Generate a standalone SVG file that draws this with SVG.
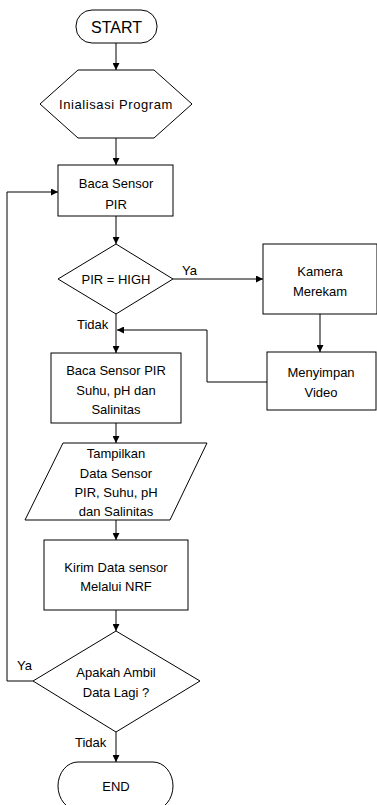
<svg xmlns="http://www.w3.org/2000/svg" width="377" height="805" viewBox="0 0 377 805">
<defs>
<marker id="ah" viewBox="0 0 10 10" refX="10" refY="5" markerWidth="7" markerHeight="7" markerUnits="userSpaceOnUse" orient="auto">
<path d="M0,0 L10,5 L0,10 Z" fill="#000"/>
</marker>
<style>
.s{fill:#fff;stroke:#000;stroke-width:1}
.c{fill:none;stroke:#000;stroke-width:1;marker-end:url(#ah)}
.l{fill:none;stroke:#000;stroke-width:1}
text{font-family:"Liberation Sans",Arial,sans-serif;font-size:13px;fill:#000;text-anchor:middle;dominant-baseline:central}
.lb{text-anchor:start}
</style>
</defs>
<rect width="377" height="805" fill="#fff"/>
<g id="connectors">
<path class="c" d="M116,43 V70"/>
<path class="c" d="M116,138 V165"/>
<path class="c" d="M116,216 V244"/>
<path class="c" d="M173,279 H263"/>
<path class="c" d="M320,314 V352"/>
<path class="c" d="M267,382 H207 V330 H117"/>
<path class="c" d="M116,314 V353"/>
<path class="c" d="M116,423 V443"/>
<path class="c" d="M116,520 V540"/>
<path class="c" d="M116,610 V631"/>
<path class="c" d="M33,681 H7 V192 H58"/>
<path class="c" d="M116,732 V762"/>
<text class="lb" x="182" y="270">Ya</text>
<text class="lb" x="77" y="324">Tidak</text>
<text class="lb" x="17" y="665">Ya</text>
<text class="lb" x="75" y="742">Tidak</text>
</g>
<g id="start">
<rect class="s" x="76" y="10" width="81" height="33" rx="16" ry="16"/>
<text x="116.5" y="27" style="font-size:16px">START</text>
</g>
<g id="init">
<polygon class="s" points="78,70 154,70 192,104 154,138 78,138 40,104"/>
<text x="116" y="104" style="letter-spacing:0.6px">Inialisasi Program</text>
</g>
<g id="baca-pir">
<rect class="s" x="58" y="165" width="115" height="51"/>
<text x="116" y="183">Baca Sensor</text>
<text x="116" y="204">PIR</text>
</g>
<g id="pir-high">
<polygon class="s" points="116,244 173,279 116,314 58,279"/>
<text x="116" y="279">PIR = HIGH</text>
</g>
<g id="kamera">
<rect class="s" x="263" y="244" width="114" height="70"/>
<text x="320" y="271">Kamera</text>
<text x="320" y="291">Merekam</text>
</g>
<g id="menyimpan">
<rect class="s" x="267" y="352" width="109" height="58"/>
<text x="321" y="372">Menyimpan</text>
<text x="321" y="392">Video</text>
</g>
<g id="baca-semua">
<rect class="s" x="51" y="353" width="130" height="70"/>
<text x="116" y="370">Baca Sensor PIR</text>
<text x="116" y="390">Suhu, pH dan</text>
<text x="116" y="409">Salinitas</text>
</g>
<g id="tampilkan">
<polygon class="s" points="63,443 207,443 170,520 25,520"/>
<text x="116" y="453">Tampilkan</text>
<text x="116" y="473">Data Sensor</text>
<text x="116" y="492">PIR, Suhu, pH</text>
<text x="116" y="511">dan Salinitas</text>
</g>
<g id="kirim">
<rect class="s" x="44" y="540" width="144" height="70"/>
<text x="116" y="567">Kirim Data sensor</text>
<text x="116" y="586">Melalui NRF</text>
</g>
<g id="ambil-lagi">
<polygon class="s" points="116,631 200,681 116,732 33,681"/>
<text x="116" y="672">Apakah Ambil</text>
<text x="116" y="692">Data Lagi ?</text>
</g>
<g id="end">
<rect class="s" x="58" y="762" width="115" height="48" rx="20" ry="24"/>
<text x="116" y="786">END</text>
</g>
</svg>
